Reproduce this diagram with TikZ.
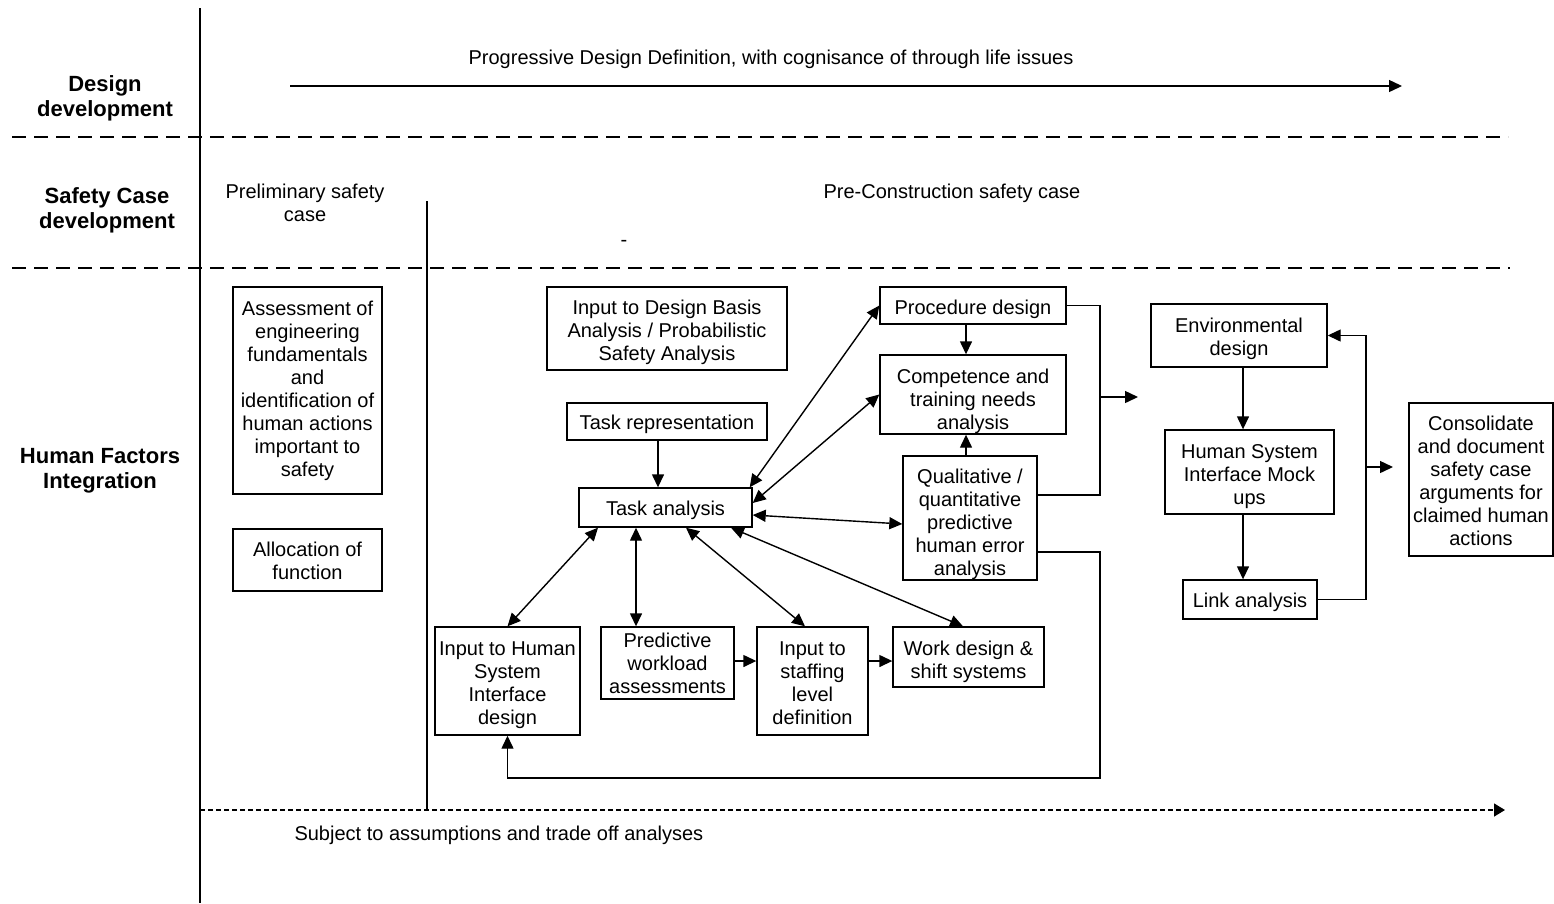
\documentclass[tikz,border=0pt]{standalone}
\usepackage{fontspec}
\setmainfont{Liberation Sans}
\usetikzlibrary{arrows.meta,calc}
\newcommand\dn[1]{\rule{0pt}{\dimexpr 14.6pt+#1pt*2\relax}}
\begin{document}
\begin{tikzpicture}[x=1pt,y=-1pt,
  every node/.style={font=\fontsize{20}{23}\selectfont, align=center},
  bx/.style={draw, line width=1.4pt, inner sep=0pt},
  lbl/.style={font=\fontsize{22}{25}\selectfont\bfseries},
  arr/.style={line width=1.4pt, -{Triangle[length=13pt,width=12pt]}},
  darr/.style={line width=1.4pt, {Triangle[length=13pt,width=12pt]}-{Triangle[length=13pt,width=12pt]}},
  ln/.style={line width=1.4pt},
  sep/.style={line width=2pt, dash pattern=on 14pt off 8pt}]
\useasboundingbox (0,0) rectangle (1554,903);
% frame lines
\coordinate (v1) at (200,8); \coordinate (v2) at (200,903);
\draw[line width=2pt] (v1) -- (v2);
\coordinate (v3) at (427,201); \coordinate (v4) at (427,810);
\draw[line width=1.1pt] (v3) -- (v4);
\coordinate (s1a) at (12,137); \coordinate (s1b) at (1508,137);
\draw[sep] (s1a) -- (s1b);
\coordinate (s2a) at (12,268); \coordinate (s2b) at (1510,268);
\draw[sep] (s2a) -- (s2b);
% top arrow
\coordinate (a1) at (290,86); \coordinate (a2) at (1402,86);
\draw[arr] (a1) -- (a2);
\node (prog) at (771,59) {Progressive Design Definition, with cognisance of through life issues};
% bottom dotted arrow
\coordinate (d1) at (200,810); \coordinate (d2) at (1505,810);
\draw[line width=1.4pt, dash pattern=on 5pt off 3pt, -{Triangle[length=11pt,width=13pt]}] (d1) -- (d2);
\node[anchor=west] (subj) at (291,835) {Subject to assumptions and trade off analyses};
% row labels
\node[lbl] (ldd) at (105,98) {Design\\development};
\node[lbl] (lsc) at (107,210) {Safety Case\\development};
\node[lbl] (lhf) at (100,471) {Human Factors\\Integration};
\node (pre) at (305,203) {Preliminary safety\\case};
\node (pcs) at (952,193) {Pre-Construction safety case};
\node (dash) at (624,243) {-};
% boxes
\node[bx, minimum width=149pt, minimum height=207pt] (assess) at (307.5,390.5) {Assessment of\\engineering\\fundamentals\\and\\identification of\\human actions\\important to\\safety};
\node[bx, minimum width=149pt, minimum height=62pt] (alloc) at (307.5,560) {\dn{1}Allocation of\\function};
\node[bx, minimum width=240pt, minimum height=83pt] (dba) at (667,328.5) {\dn{4}Input to Design Basis\\Analysis / Probabilistic\\Safety Analysis};
\node[bx, minimum width=200pt, minimum height=37pt] (taskrep) at (667,421.5) {\dn{3}Task representation};
\node[bx, minimum width=173pt, minimum height=39pt] (ta) at (665.5,507.5) {\dn{3}Task analysis};
\node[bx, minimum width=186pt, minimum height=37pt] (proc) at (973,305.5) {\dn{4}Procedure design};
\node[bx, minimum width=186pt, minimum height=79pt] (comp) at (973,394.5) {\dn{7}Competence and\\training needs\\analysis};
\node[bx, minimum width=134pt, minimum height=124pt] (qual) at (970,518) {\dn{6.5}Qualitative /\\quantitative\\predictive\\human error\\analysis};
\node[bx, minimum width=176pt, minimum height=63pt] (env) at (1239,335.5) {\dn{3}Environmental\\design};
\node[bx, minimum width=169pt, minimum height=84pt] (mock) at (1249.5,472) {\dn{4}Human System\\Interface Mock\\ups};
\node[bx, minimum width=134pt, minimum height=39pt] (link) at (1250,599.5) {\dn{3}Link analysis};
\node[bx, minimum width=144pt, minimum height=153pt] (cons) at (1481,479.5) {\dn{1}Consolidate\\and document\\safety case\\arguments for\\claimed human\\actions};
\node[bx, minimum width=145pt, minimum height=108pt] (hsi) at (507.5,681) {\dn{4}Input to Human\\System\\Interface\\design};
\node[bx, minimum width=133pt, minimum height=72pt] (pred) at (667.5,663) {Predictive\\workload\\assessments};
\node[bx, minimum width=111pt, minimum height=108pt] (staff) at (812.5,681) {\dn{2}Input to\\staffing\\level\\definition};
\node[bx, minimum width=151pt, minimum height=60pt] (work) at (968.5,657) {\dn{5}Work design \&\\shift systems};
% connectors
\draw[arr] ([xshift=-9pt]taskrep.south) -- ([xshift=-9pt]taskrep.south |- ta.north);
\draw[darr] ([xshift=-3pt]ta.north east) -- (proc.west);
\draw[darr] ([yshift=4.5pt]ta.east) -- (comp.west);
\draw[darr] ([yshift=-7.5pt]ta.east) -- ([yshift=-6pt]qual.west);
\draw[arr] ([xshift=-7pt]proc.south) -- ([xshift=-7pt]comp.north);
\draw[arr] ([xshift=-4pt]qual.north) -- ([xshift=-4pt]qual.north |- comp.south);
\coordinate (j1) at (1100,397);
\coordinate (j1e) at (1138,397);
\draw[ln] (proc.east) -| (j1) |- ([yshift=23pt]qual.east);
\draw[arr] (j1) -- (j1e);
\coordinate (fb) at (1100,778);
\draw[arr] ([yshift=-34pt]qual.east) -| (fb) -| (hsi.south);
\draw[darr] ([xshift=-67.5pt]ta.south) -- (hsi.north);
\draw[darr] ([xshift=-29.5pt]ta.south) -- ([xshift=-29.5pt]ta.south |- pred.north);
\draw[darr] ([xshift=20.5pt]ta.south) -- ([xshift=-7.5pt]staff.north);
\draw[darr] ([xshift=65.5pt]ta.south) -- ([xshift=-5.5pt]work.north);
\draw[arr] ([yshift=2pt]pred.east) -- ([yshift=2pt]pred.east -| staff.west);
\draw[arr] ([yshift=20pt]staff.east) -- ([yshift=20pt]staff.east -| work.west);
\draw[arr] ([xshift=4pt]env.south) -- ([xshift=4pt]env.south |- mock.north);
\draw[arr] ([xshift=-6.5pt]mock.south) -- ([xshift=-6.5pt]mock.south |- link.north);
\coordinate (j2) at (1366,467);
\coordinate (j2e) at (1393,467);
\draw[arr] (link.east) -| (j2) |- (env.east);
\draw[arr] (j2) -- (j2e);
\end{tikzpicture}
\end{document}
